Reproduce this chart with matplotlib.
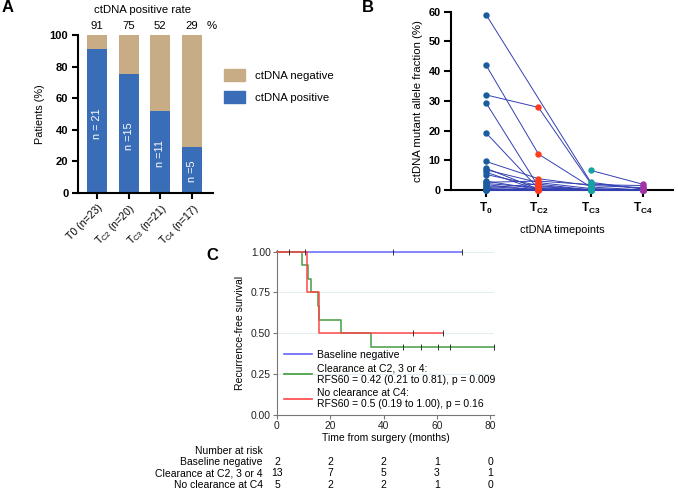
import numpy as np
import matplotlib
matplotlib.use('Agg')
import matplotlib.pyplot as plt
from matplotlib.patches import Patch
from matplotlib.lines import Line2D
from matplotlib.transforms import blended_transform_factory

plt.rcParams['font.family'] = ['Liberation Sans', 'DejaVu Sans']
plt.rcParams['mathtext.fontset'] = 'custom'
plt.rcParams['mathtext.rm'] = 'Liberation Sans'
plt.rcParams['mathtext.it'] = 'Liberation Sans:italic'
plt.rcParams['mathtext.bf'] = 'Liberation Sans:bold'

# ---------------- Panel A data ----------------
a_labels = ['T0 (n=23)', r'T$_{\mathrm{C2}}$ (n=20)', r'T$_{\mathrm{C3}}$ (n=21)', r'T$_{\mathrm{C4}}$ (n=17)']
a_positive = [91, 75, 52, 29]
a_counts = ['n = 21', 'n =15', 'n =11', 'n =5']
a_rates = ['91', '75', '52', '29']

# ---------------- Panel B data (per patient: T0, TC2, TC3, TC4) ----------------
nan = np.nan
b_timepoints = [r'$\mathbf{T_0}$', r'$\mathbf{T_{C2}}$', r'$\mathbf{T_{C3}}$', r'$\mathbf{T_{C4}}$']
b_t0 = [59, 42, 32, 29.3, 19.2, 9.6, 7.3, 6.8, 6.0, 5.2, 3.0, 2.6, 2.2, 1.8, 1.2, 0.8, 0.5, 0.3, 0.2, 0.1, 0.05, 0, 0, nan]
b_tc2 = [nan, 12.1, 27.8, 1.2, 0.5, 3.8, 0.3, 2.5, 0, 1.5, 0.2, 3.0, 0.8, 0, 0.1, 2.0, 0, nan, 0, nan, 0, 0, 0, nan]
b_tc3 = [2.6, 1.0, 2.2, 0, 0, 1.5, 0, 0.5, nan, 0, 0.2, 1.8, 0, 0.3, 0, 0, nan, 0, 0.1, nan, 0, 0, 0, 6.6]
b_tc4 = [0.3, 0, 0.5, nan, 0, 0.8, 0, 0, nan, 0, 0, 1.5, 0, nan, 0, nan, nan, nan, 0, nan, 0.2, 0, 0, 1.9]

# ---------------- Panel C data ----------------
c_groups = ['Baseline negative', 'Clearance at C2, 3 or 4', 'No clearance at C4']
c_legend = ['Baseline negative',
            'Clearance at C2, 3 or 4:\nRFS60 = 0.42 (0.21 to 0.81), p = 0.009',
            'No clearance at C4:\nRFS60 = 0.5 (0.19 to 1.00), p = 0.16']
c_times = [[43.7, 69.6],
           [4.6, 9.3, 11.8, 12.6, 15.3, 15.9, 24.0, 35.2, 47.5, 54.1, 60.6, 65.0, 81.5],
           [10.5, 11.4, 15.9, 51.2, 62.2]]
c_events = [[0, 0],
            [0, 1, 1, 1, 1, 1, 1, 1, 0, 0, 0, 0, 0],
            [0, 1, 1, 0, 0]]
risk_times = [0, 20, 40, 60, 80]
risk_counts = [[2, 2, 2, 1, 0],
               [13, 7, 5, 3, 1],
               [5, 2, 2, 1, 0]]

W, H = 678, 500
fig = plt.figure(figsize=(W / 100, H / 100), dpi=100)


def rect(x0, y0, x1, y1):
    return [x0 / W, 1 - y1 / H, (x1 - x0) / W, (y1 - y0) / H]


# ================= Panel A =================
axA = fig.add_axes(rect(77.7, 35, 212.7, 192.7))
blue_bar = '#3A6DB7'
tan_bar = '#C8AC85'
xa = np.arange(len(a_positive))
pos = np.array(a_positive)
axA.bar(xa, pos, width=0.63, color=blue_bar, zorder=2)
axA.bar(xa, 100 - pos, bottom=pos, width=0.63, color=tan_bar, zorder=2)
axA.set_xlim(-0.61, 3.65)
axA.set_ylim(0, 100)
axA.set_yticks(range(0, 101, 20))
axA.set_yticklabels([str(v) for v in range(0, 101, 20)], fontsize=8, fontweight='bold')
axA.set_xticks(xa)
axA.set_xticklabels(a_labels, rotation=45, ha='right', rotation_mode='anchor', fontsize=7.6)
for s in ['top', 'right']:
    axA.spines[s].set_visible(False)
for s in ['left', 'bottom']:
    axA.spines[s].set_linewidth(1.5)
axA.tick_params(axis='both', width=1.5, length=4.3, pad=2.5)
axA.set_ylabel('Patients (%)', fontsize=7.8, labelpad=3)
for i, (v, t) in enumerate(zip(a_positive, a_counts)):
    axA.text(i, v * 0.48, t, rotation=90, color='white', ha='center', va='center', fontsize=7.8)
for i, r in enumerate(a_rates):
    axA.text(i, 105.7, r, ha='center', va='center', fontsize=8.2, clip_on=False)
axA.text(3.63, 105.7, '%', ha='center', va='center', fontsize=8.2, clip_on=False)
axA.text(1.45, 116, 'ctDNA positive rate', ha='center', va='center', fontsize=8.2, clip_on=False)
fig.legend([Patch(color=tan_bar), Patch(color=blue_bar)], ['ctDNA negative', 'ctDNA positive'],
           loc='upper left', bbox_to_anchor=(224 / W, 1 - 69 / H), frameon=False, fontsize=8.2,
           handlelength=1.8, handleheight=1.2, labelspacing=0.9, handletextpad=0.95,
           borderpad=0, borderaxespad=0)

# ================= Panel B =================
axB = fig.add_axes(rect(451, 11.7, 673, 190))
line_col = '#3340B2'
pt_cols = ['#1A5C9E', '#FF3B1E', '#16A0A2', '#A034A6']
data = np.array([b_t0, b_tc2, b_tc3, b_tc4], dtype=float).T
for row in data:
    idx = [j for j in range(4) if not np.isnan(row[j])]
    if len(idx) > 1:
        axB.plot(idx, row[idx], color=line_col, lw=0.7, zorder=2, clip_on=False)
for j in range(4):
    vals = data[:, j]
    vals = vals[~np.isnan(vals)]
    axB.plot(np.full(len(vals), j), vals, 'o', color=pt_cols[j], ms=4.6, mec='none', zorder=3, clip_on=False)
axB.set_xlim(-0.67, 3.57)
axB.set_ylim(0, 60)
axB.set_yticks(range(0, 61, 10))
axB.set_yticklabels([str(v) for v in range(0, 61, 10)], fontsize=7.8, fontweight='bold')
axB.set_xticks(range(4))
axB.set_xticklabels(b_timepoints, fontsize=8.5)
for s in ['top', 'right']:
    axB.spines[s].set_visible(False)
for s in ['left', 'bottom']:
    axB.spines[s].set_linewidth(1.5)
    axB.spines[s].set_zorder(1)
axB.tick_params(axis='both', width=1.5, length=5, pad=2.5)
axB.set_ylabel('ctDNA mutant allele fraction (%)', fontsize=8.2, labelpad=4)
axB.set_xlabel('ctDNA timepoints', fontsize=7.9, labelpad=7)

# ================= Panel C =================
axC = fig.add_axes(rect(277, 250, 494, 415))
axC.set_xlim(0, 81.5)
axC.set_ylim(0, 1.01)
for yv in [0.25, 0.5, 0.75, 1.0]:
    axC.axhline(yv, color='#E5EDF2', lw=0.8, zorder=0)
km_cols = ['#6464FF', '#3E9C3E', '#FF4444']


def km(times, events):
    order = np.argsort(times)
    t = np.asarray(times, dtype=float)[order]
    e = np.asarray(events)[order]
    at_risk = len(t)
    s = 1.0
    xs, ys, cens = [0.0], [1.0], []
    for ti, ei in zip(t, e):
        if ei:
            s *= (at_risk - 1) / at_risk
            xs.append(ti)
            ys.append(s)
        else:
            cens.append((ti, s))
        at_risk -= 1
    xs.append(t.max())
    ys.append(s)
    return xs, ys, cens


for times, events, col in zip(c_times, c_events, km_cols):
    xs, ys, cens = km(times, events)
    axC.step(xs, ys, where='post', color=col, lw=1.2, alpha=0.9, zorder=3, clip_on=False)
    if cens:
        cx, cy = zip(*cens)
        axC.plot(cx, cy, '|', color='#333333', ms=4.5, mew=0.7, zorder=4, clip_on=False)

axC.set_yticks([0, 0.25, 0.5, 0.75, 1.0])
axC.set_yticklabels(['0.00', '0.25', '0.50', '0.75', '1.00'], fontsize=7.4, color='#222222')
axC.set_xticks(risk_times)
axC.set_xticklabels([str(v) for v in risk_times], fontsize=7.4, color='#222222')
for s in ['top', 'right']:
    axC.spines[s].set_visible(False)
for s in ['left', 'bottom']:
    axC.spines[s].set_color('#777777')
    axC.spines[s].set_linewidth(0.8)
axC.tick_params(axis='both', color='#777777', width=0.8, length=3, pad=1.5)
axC.set_xlabel('Time from surgery (months)', fontsize=7.5, labelpad=1)
axC.set_ylabel('Recurrence-free survival', fontsize=7.5, labelpad=4)
handles = [Line2D([], [], color=c, lw=1.2) for c in km_cols]
axC.legend(handles, c_legend, loc='upper left', bbox_to_anchor=(284 / W, 1 - 350 / H),
           bbox_transform=fig.transFigure, frameon=False, fontsize=7.5,
           handlelength=2.7, handletextpad=0.45, labelspacing=0.3, borderpad=0, borderaxespad=0)

trans = blended_transform_factory(axC.transData, fig.transFigure)
fig.text(262.7 / W, 1 - 450.7 / H, 'Number at risk', ha='right', va='center', fontsize=7.5)
row_y = [462, 473.5, 485]
for name, counts, yp in zip(c_groups, risk_counts, row_y):
    fig.text(262.7 / W, 1 - yp / H, name, ha='right', va='center', fontsize=7.5)
    for tx, n in zip(risk_times, counts):
        axC.text(tx, 1 - yp / H, str(n), transform=trans, ha='center', va='center', fontsize=7.5, clip_on=False)

# panel letters
fig.text(2 / W, 1 - 7.5 / H, 'A', fontsize=12, fontweight='bold', va='center', ha='left')
fig.text(362 / W, 1 - 7.5 / H, 'B', fontsize=12, fontweight='bold', va='center', ha='left')
fig.text(206 / W, 1 - 255 / H, 'C', fontsize=12, fontweight='bold', va='center', ha='left')

fig.savefig('out.png', dpi=100)
